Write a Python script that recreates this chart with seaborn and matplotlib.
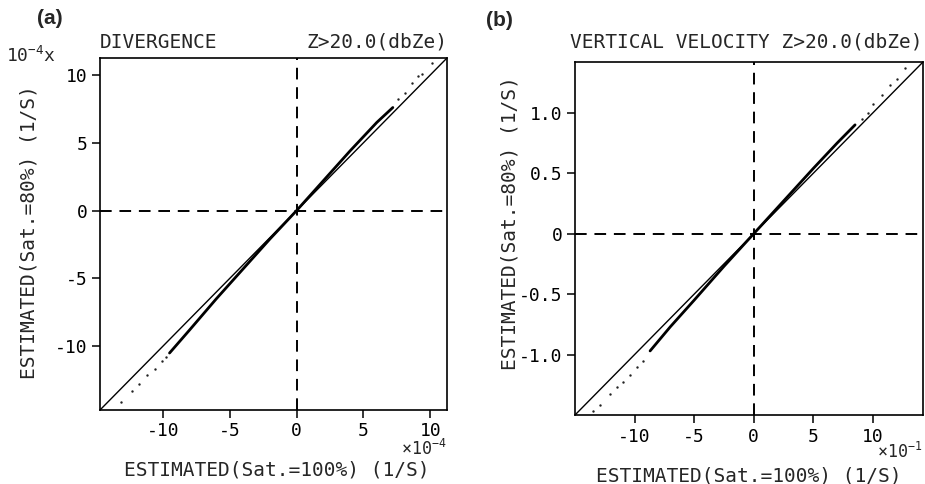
import numpy as np
import pandas as pd
import matplotlib
matplotlib.use("Agg")
import matplotlib.pyplot as plt
import seaborn as sns

# ---------------- data ----------------
# Panel (a): divergence, values in units of 1e-4 (1/S)
a_lim = [-14.7, 11.25]
a_ticks = [-10, -5, 0, 5, 10]
a_ticklabels = ["-10", "-5", "0", "5", "10"]
a_core_x = [-9.5, -8.0, -6.0, -4.0, -2.0, 0.0, 2.0, 4.0, 6.0, 7.2]
a_core_y = [-10.5, -8.8, -6.5, -4.3, -2.1, 0.0, 2.2, 4.4, 6.5, 7.6]
a_dots_x = [-13.1, -12.3, -11.8, -11.2, -10.6, -10.1, -9.8,
            7.6, 8.1, 8.6, 9.1, 9.4, 10.1]
a_dots_y = [-14.1, -13.3, -12.8, -12.1, -11.7, -11.1, -10.8,
            8.2, 8.7, 9.4, 9.9, 10.1, 10.9]

# Panel (b): vertical velocity (1/S)
b_lim = [-1.50, 1.42]
b_xticks = [-1.0, -0.5, 0.0, 0.5, 1.0]
b_xticklabels = ["-10", "-5", "0", "5", "10"]
b_yticks = [-1.0, -0.5, 0.0, 0.5, 1.0]
b_yticklabels = ["-1.0", "-0.5", "0", "0.5", "1.0"]
b_core_x = [-0.87, -0.7, -0.5, -0.25, 0.0, 0.25, 0.5, 0.7, 0.85]
b_core_y = [-0.97, -0.77, -0.55, -0.27, 0.0, 0.27, 0.54, 0.75, 0.90]
b_dots_x = [-1.35, -1.29, -1.21, -1.15, -1.10, -1.04, -0.98, -0.93,
            0.91, 0.96, 1.00, 1.08, 1.14, 1.20, 1.27]
b_dots_y = [-1.47, -1.42, -1.33, -1.27, -1.23, -1.17, -1.10, -1.05,
            0.95, 1.00, 1.07, 1.15, 1.23, 1.28, 1.37]

# ---------------- style ----------------
sns.set_style("ticks")
plt.rcParams["font.family"] = ["DejaVu Sans Mono", "DejaVu Sans"]
plt.rcParams["axes.unicode_minus"] = False
plt.rcParams["mathtext.fontset"] = "custom"
plt.rcParams["mathtext.rm"] = "DejaVu Sans Mono"
plt.rcParams["mathtext.it"] = "DejaVu Sans Mono"
plt.rcParams["mathtext.bf"] = "DejaVu Sans Mono"

W, H = 925, 484
fig = plt.figure(figsize=(W / 100, H / 100), dpi=100)


def fx(x):
    return x / W


def fy(y):
    return 1 - y / H


def panel(rect, lim, core_x, core_y, dots_x, dots_y,
          xticks, xticklabels, yticks, yticklabels):
    ax = fig.add_axes(rect)
    df_diag = pd.DataFrame({"x": lim, "y": lim})
    sns.lineplot(data=df_diag, x="x", y="y", ax=ax, color="black",
                 linewidth=1.0, estimator=None, sort=False)
    df_core = pd.DataFrame({"x": core_x, "y": core_y})
    sns.lineplot(data=df_core, x="x", y="y", ax=ax, color="black",
                 linewidth=2.0, estimator=None, sort=False)
    df_dots = pd.DataFrame({"x": dots_x, "y": dots_y})
    sns.scatterplot(data=df_dots, x="x", y="y", ax=ax, color="#222222",
                    s=3, linewidth=0, marker="o")
    ax.axhline(0, color="black", linewidth=1.4, dashes=(6, 4))
    ax.axvline(0, color="black", linewidth=1.4, dashes=(6, 4))
    ax.set_xlim(lim)
    ax.set_ylim(lim)
    ax.set_xticks(xticks)
    ax.set_xticklabels(xticklabels)
    ax.set_yticks(yticks)
    ax.set_yticklabels(yticklabels)
    ax.set_xlabel("")
    ax.set_ylabel("")
    for sp in ax.spines.values():
        sp.set_visible(True)
        sp.set_linewidth(1.2)
        sp.set_color("black")
    ax.tick_params(direction="out", length=6, width=1.1, labelsize=13,
                   colors="black", pad=3)
    return ax


ax_a = panel([fx(100), fy(410), 347 / W, 352 / H], a_lim,
             a_core_x, a_core_y, a_dots_x, a_dots_y,
             a_ticks, a_ticklabels, a_ticks, a_ticklabels)
ax_b = panel([fx(575), fy(415), 348 / W, 353 / H], b_lim,
             b_core_x, b_core_y, b_dots_x, b_dots_y,
             b_xticks, b_xticklabels, b_yticks, b_yticklabels)

# panel letters
fig.text(fx(37), fy(18), "(a)", fontsize=15, fontweight="bold",
         family="Liberation Sans", ha="left", va="center")
fig.text(fx(486), fy(20), "(b)", fontsize=15, fontweight="bold",
         family="Liberation Sans", ha="left", va="center")

# titles
fig.text(fx(100), fy(48), "DIVERGENCE", fontsize=14, ha="left", va="baseline")
fig.text(fx(447), fy(48), "Z>20.0(dbZe)", fontsize=14, ha="right", va="baseline")
fig.text(fx(923), fy(48), "VERTICAL VELOCITY Z>20.0(dbZe)", fontsize=14,
         ha="right", va="baseline")

# scale notes
fig.text(fx(6), fy(62), "10$^{-4}$x", fontsize=13, ha="left", va="baseline")
fig.text(fx(447), fy(455), "×10$^{-4}$", fontsize=12, ha="right", va="baseline")
fig.text(fx(922), fy(458), "×10$^{-1}$", fontsize=12, ha="right", va="baseline")

# axis labels
fig.text(fx(277), fy(470), "ESTIMATED(Sat.=100%) (1/S)", fontsize=14,
         ha="center", va="center")
fig.text(fx(749), fy(476), "ESTIMATED(Sat.=100%) (1/S)", fontsize=14,
         ha="center", va="center")
fig.text(fx(29), fy(232), "ESTIMATED(Sat.=80%) (1/S)", fontsize=14,
         rotation=90, ha="center", va="center")
fig.text(fx(510), fy(223), "ESTIMATED(Sat.=80%) (1/S)", fontsize=14,
         rotation=90, ha="center", va="center")

fig.savefig("out.png", dpi=100)
